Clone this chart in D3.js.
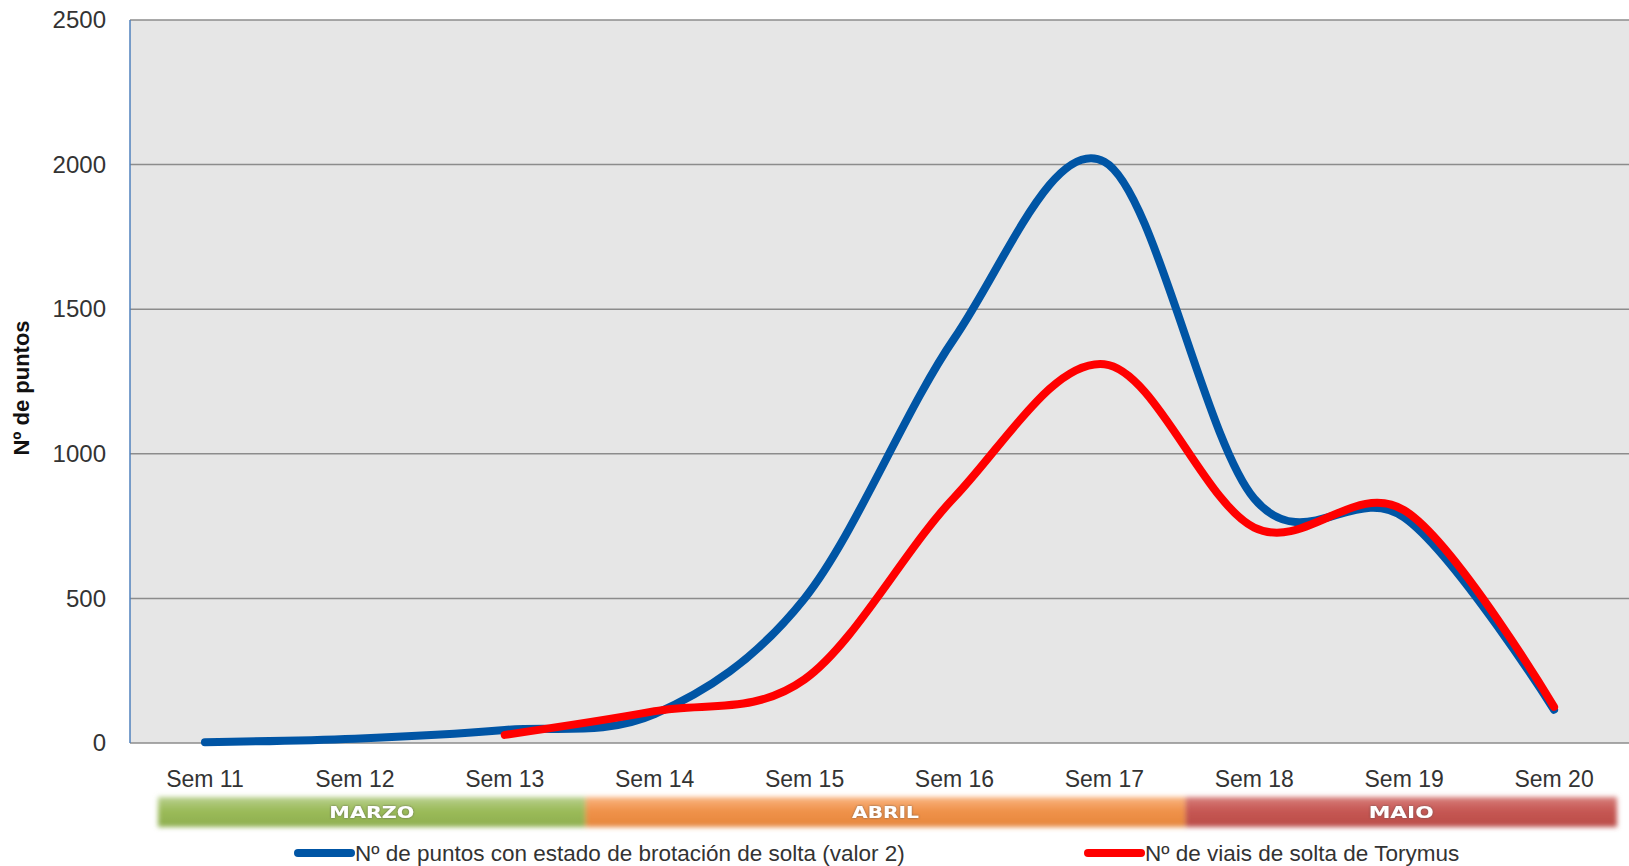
<!DOCTYPE html>
<html>
<head>
<meta charset="utf-8">
<script src="https://cdn.jsdelivr.net/npm/d3@7"></script>
<style>
  body { margin: 0; background: #fff; }
  svg { display: block; font-family: "Liberation Sans", Arial, sans-serif; }
</style>
</head>
<body>
<svg id="chart" width="1629" height="866"></svg>
<script>
"use strict";

// data
var weeks = ["Sem 11", "Sem 12", "Sem 13", "Sem 14", "Sem 15", "Sem 16", "Sem 17", "Sem 18", "Sem 19", "Sem 20"];
var puntos = [3, 15, 45, 100, 500, 1400, 2010, 845, 780, 115];
var viais = [null, null, 28, 110, 220, 850, 1310, 745, 805, 125];
var yTicks = [0, 500, 1000, 1500, 2000, 2500];

var months = ["MARZO", "ABRIL", "MAIO"];
var monthStart = ["Sem 11", "Sem 14", "Sem 18"]; // first week shown under each month
var monthEnd = ["Sem 13", "Sem 17", "Sem 20"];

var seriesNames = ["Nº de puntos con estado de brotación de solta (valor 2)", "Nº de viais de solta de Torymus"];
var seriesColors = ["#0055A5", "#FF0000"];

var svg = d3.select("#chart");

var plotLeft = 130, plotRight = 1629, plotTop = 20, plotBottom = 743;

var x = d3.scaleBand().domain(weeks).range([plotLeft, plotRight]).padding(0);
var y = d3.scaleLinear().domain([0, 2500]).range([plotBottom, plotTop]);

function cx(d) { return x(d) + x.bandwidth() / 2; }

var defs = svg.append("defs");
var blur = defs.append("filter").attr("id", "soft").attr("x", "-5%").attr("y", "-50%").attr("width", "110%").attr("height", "200%");
blur.append("feGaussianBlur").attr("stdDeviation", 2.8);

var shadow = defs.append("filter").attr("id", "txtshadow").attr("x", "-20%").attr("y", "-50%").attr("width", "140%").attr("height", "200%");
shadow.append("feDropShadow").attr("dx", 0).attr("dy", 0).attr("stdDeviation", 1.2).attr("flood-color", "#555").attr("flood-opacity", 0.8);

// plot background
svg.append("rect")
	.attr("x", plotLeft).attr("y", plotTop)
	.attr("width", plotRight - plotLeft).attr("height", plotBottom - plotTop)
	.attr("fill", "#E6E6E6");

// gridlines
svg.append("g").selectAll("line")
	.data(yTicks)
	.enter().append("line")
	.attr("x1", plotLeft).attr("x2", plotRight)
	.attr("y1", function(d) { return y(d); })
	.attr("y2", function(d) { return y(d); })
	.attr("stroke", "#8C8C8C")
	.attr("stroke-width", 1.5);

// left axis line (blue in the original)
svg.append("line")
	.attr("x1", plotLeft).attr("x2", plotLeft)
	.attr("y1", plotTop).attr("y2", plotBottom)
	.attr("stroke", "#4F81BD").attr("stroke-width", 1.5);

// y axis labels
var yAxis = svg.append("g")
	.attr("transform", "translate(" + plotLeft + ",0)")
	.call(d3.axisLeft(y).tickValues(yTicks).tickFormat(d3.format("d")).tickSize(0).tickPadding(24));
yAxis.select(".domain").remove();
yAxis.selectAll("text")
	.attr("font-family", "Liberation Sans, Arial, sans-serif")
	.attr("font-size", 24)
	.attr("fill", "#333");

// x axis labels
var xAxis = svg.append("g")
	.attr("transform", "translate(0," + plotBottom + ")")
	.call(d3.axisBottom(x).tickSize(0).tickPadding(0));
xAxis.select(".domain").remove();
xAxis.selectAll("text")
	.attr("y", 44).attr("dy", 0)
	.attr("font-family", "Liberation Sans, Arial, sans-serif")
	.attr("font-size", 23)
	.attr("fill", "#333");

// y axis title
svg.append("text")
	.attr("transform", "translate(29,388) rotate(-90)")
	.attr("text-anchor", "middle")
	.attr("font-size", 22)
	.attr("font-weight", "bold")
	.attr("fill", "#111")
	.text("Nº de puntos");

// month bands
var bandColors = [
	["#B9D08F", "#9BBB59", "#8EAE4E"],
	["#F9B582", "#F0924A", "#E5863C"],
	["#D77F7C", "#C65753", "#BA4C48"]
];
var bandTop = 797, bandH = 30;
// the first band starts a bit right of the axis, boundaries sit just past the gap between weeks
var bandX = function(i) {
	var a = i === 0 ? x(monthStart[i]) + 28 : x(monthStart[i]) + 6;
	var b = i === months.length - 1 ? x(monthEnd[i]) + x.bandwidth() - 12 : x(monthEnd[i]) + x.bandwidth() + 6;
	return [a, b];
};
months.forEach(function(m, i) {
	var g = defs.append("linearGradient").attr("id", "band" + i)
		.attr("x1", 0).attr("x2", 0).attr("y1", 0).attr("y2", 1);
	g.append("stop").attr("offset", "0%").attr("stop-color", bandColors[i][0]);
	g.append("stop").attr("offset", "45%").attr("stop-color", bandColors[i][1]);
	g.append("stop").attr("offset", "100%").attr("stop-color", bandColors[i][2]);
});

var bands = svg.append("g").attr("filter", "url(#soft)");
months.forEach(function(m, i) {
	var ext = bandX(i);
	bands.append("rect")
		.attr("x", ext[0]).attr("y", bandTop)
		.attr("width", ext[1] - ext[0]).attr("height", bandH)
		.attr("fill", "url(#band" + i + ")");
});

var monthLabelW = [85, 67, 65];
months.forEach(function(m, i) {
	var ext = bandX(i);
	svg.append("text")
		.attr("x", (ext[0] + ext[1]) / 2 - monthLabelW[i] / 2)
		.attr("y", 818)
		.attr("font-family", "DejaVu Sans, sans-serif")
		.attr("font-size", 16)
		.attr("font-weight", "bold")
		.attr("fill", "#fff")
		.attr("textLength", monthLabelW[i])
		.attr("lengthAdjust", "spacingAndGlyphs")
		.attr("filter", "url(#txtshadow)")
		.text(m);
});

// lines
var line = d3.line()
	.defined(function(d) { return d.v !== null; })
	.x(function(d) { return cx(d.w); })
	.y(function(d) { return y(d.v); })
	.curve(d3.curveCardinal.tension(0));

[puntos, viais].forEach(function(vals, i) {
	var pts = weeks.map(function(w, k) { return {w: w, v: vals[k]}; });
	svg.append("path")
		.datum(pts)
		.attr("d", line)
		.attr("fill", "none")
		.attr("stroke", seriesColors[i])
		.attr("stroke-width", 8)
		.attr("stroke-linecap", "round")
		.attr("stroke-linejoin", "round");
});

// legend
var legendX = [298, 1088];
seriesNames.forEach(function(name, i) {
	var lg = svg.append("g").attr("transform", "translate(" + legendX[i] + ",853)");
	lg.append("line")
		.attr("x1", 0).attr("x2", 53)
		.attr("stroke", seriesColors[i])
		.attr("stroke-width", 8)
		.attr("stroke-linecap", "round");
	lg.append("text")
		.attr("x", 57).attr("y", 8)
		.attr("font-size", 22.5)
		.attr("fill", "#333")
		.text(name);
});
</script>
</body>
</html>
